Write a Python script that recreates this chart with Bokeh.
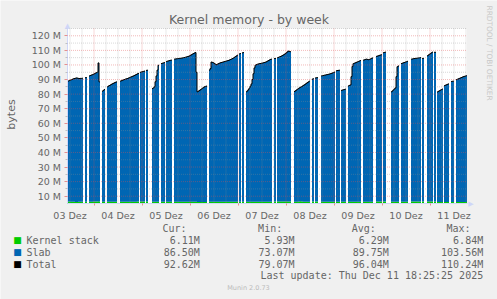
import math
import datetime as dt
from bokeh.plotting import figure
from bokeh.models import Range1d, FixedTicker, Label, BoxAnnotation
from bokeh.embed import file_html
from bokeh.resources import INLINE

# ---------------- chart content ----------------
TITLE = "Kernel memory - by week"
Y_LABEL = "bytes"
WATERMARK = "RRDTOOL / TOBI OETIKER"
FOOTER = "Munin 2.0.73"
LAST_UPDATE = "Last update: Thu Dec 11 18:25:25 2025"

y_ticks = [10, 20, 30, 40, 50, 60, 70, 80, 90, 100, 110, 120]
y_tick_labels = ["10 M", "20 M", "30 M", "40 M", "50 M", "60 M",
                 "70 M", "80 M", "90 M", "100 M", "110 M", "120 M"]
days = [3, 4, 5, 6, 7, 8, 9, 10, 11]            # December 2025
day_labels = ["03 Dez", "04 Dez", "05 Dez", "06 Dez", "07 Dez",
              "08 Dez", "09 Dez", "10 Dez", "11 Dez"]

series_names = ["Kernel stack", "Slab", "Total"]
series_colors = ["#00CC00", "#0066B3", "#000000"]
stat_headers = ["Cur:", "Min:", "Avg:", "Max:"]
stats_kernel_stack = ["6.11M", "5.93M", "6.29M", "6.84M"]
stats_slab = ["86.50M", "73.07M", "89.75M", "103.56M"]
stats_total = ["92.62M", "79.07M", "96.04M", "110.24M"]

# half-hour samples (M), first sample 2025-12-03 10:30; None = no data
total_03 = [88.8, 89.0, 89.3, 89.6, 89.9, 90.2, 90.5, 90.7, 90.9, 91.1, 91.0, 90.8, 90.7, 90.8, 90.8, 90.9,
            None, None, 91.3, 91.3, None, None,
            92.5, 92.8, 93.1, 93.3, 93.6]
ks_03 = [6.3, 6.3, 6.3, 6.2, 6.2, 6.2, 6.2, 6.2, 6.1, 6.1, 6.1, 6.2, 6.2, 6.2, 6.2, 6.2,
         None, None, 6.2, 6.2, None, None,
         6.2, 6.2, 6.2, 6.2, 6.3]

total_04 = [94.0, 94.4, 94.7, 95.0, 101.4, 88.4, None, None, 82.0, 82.5, 83.2, None, None,
            85.0, 85.5, 85.9, 86.3, 86.7, 87.1, 87.4, 87.8, 88.1, 88.4, None, None, None,
            88.9, 89.2, 89.5, 89.8, 90.0, 90.3, 90.5, 90.7, 91.0, 91.3, 91.6, 91.9, 92.2, 92.5, 92.8, 93.2, 93.5, 93.9, 94.2,
            None, 95.0, 95.2]
ks_04 = [6.3, 6.3, 6.3, 6.4, 6.5, 6.3, None, None, 6.2, 6.2, 6.2, None, None,
         6.2, 6.2, 6.2, 6.2, 6.2, 6.2, 6.2, 6.2, 6.2, 6.2, None, None, None,
         6.2, 6.2, 6.2, 6.2, 6.2, 6.2, 6.2, 6.2, 6.2, 6.2, 6.2, 6.2, 6.2, 6.2, 6.2, 6.2, 6.2, 6.3, 6.3,
         None, 6.3, 6.3]

total_05 = [95.4, 95.6, 95.8, None, 96.3, 96.4, None, None, None, None,
            83.8, 84.3, 85.0, 88.5, 92.5, 96.5, 99.8, None, None,
            101.0, 101.2, 101.4, 101.6, None, 102.4, 102.6, 102.8, 103.0, 103.2, 103.3, None, None,
            104.0, 104.1, 104.2, 104.3, 104.4, 104.5, 104.6, 104.7, 104.8, 105.0, 105.1, 105.3, 105.5, 105.7, 105.9, 106.2]
ks_05 = [6.3, 6.3, 6.3, None, 6.3, 6.3, None, None, None, None,
         6.2, 6.2, 6.2, 6.2, 6.2, 6.2, 6.2, None, None,
         6.2, 6.2, 6.2, 6.2, None, 6.2, 6.2, 6.2, 6.2, 6.2, 6.2, None, None,
         6.2, 6.2, 6.2, 6.2, 6.2, 6.2, 6.2, 6.2, 6.2, 6.2, 6.2, 6.2, 6.2, 6.2, 6.2, 6.2]

total_06 = [106.6, 107.0, 107.4, 107.8, 108.2, 108.5, 95.0,
            81.6, 82.0, 82.5, 83.0, 83.5, 84.0, 84.5, 85.0, 85.3, 85.5, None, None,
            96.5, 97.5, 102.0, 101.8, 101.5, 101.0, 100.5, 100.2, 100.5, 100.9, 101.2, 101.5, 101.7, 101.9, 102.1,
            102.3, 102.5, 102.7, 102.9, 103.1, 103.4, 103.7, 104.0, 104.4, 104.8, 105.2, 105.7, 106.2, 106.7]
ks_06 = [6.2, 6.2, 6.2, 6.2, 6.2, 6.2, 6.2,
         6.1, 6.1, 6.1, 6.1, 6.1, 6.1, 6.1, 6.1, 6.1, 6.1, None, None,
         6.2, 6.2, 6.2, 6.2, 6.2, 6.2, 6.2, 6.2, 6.2, 6.2, 6.2, 6.2, 6.2, 6.2, 6.2,
         6.2, 6.2, 6.2, 6.2, 6.2, 6.2, 6.2, 6.2, 6.2, 6.2, 6.2, 6.2, 6.2, 6.2]

total_07 = [None, 107.6, 107.8, None, 108.3, 108.5, None, None,
            81.6, 82.3, 83.1, 84.2, 85.5, 87.0, 90.0, 94.0, 98.0, 99.8, 100.2, 100.5, 100.7,
            100.9, 101.0, 101.2, 101.3, 101.5, 101.7, 101.9, 102.2, 102.6, 103.0, 103.4, 103.8, 104.0,
            None, None, 104.4, 104.4, None, 105.0, 105.2, 105.5, 105.8, 106.1, 106.5, 106.9, 107.3, 107.8]
ks_07 = [None, 6.2, 6.2, None, 6.2, 6.2, None, None,
         6.2, 6.2, 6.2, 6.2, 6.2, 6.2, 6.2, 6.2, 6.2, 6.2, 6.2, 6.2, 6.2,
         6.2, 6.2, 6.2, 6.2, 6.2, 6.2, 6.2, 6.2, 6.2, 6.2, 6.2, 6.2, 6.2,
         None, None, 6.3, 6.3, None, 6.3, 6.3, 6.3, 6.3, 6.3, 6.3, 6.3, 6.3, 6.3]

total_08 = [108.4, 109.0, 109.5, 109.3, 109.1, None, None, None,
            81.8, 82.3, 82.8, 83.3, 83.8, 84.3, 84.7, 85.1, 85.5, 86.0, 86.4, 86.9, 87.4, 87.9, 88.4, 88.9,
            None, None, 90.3, 90.5, None, 91.1, 91.2, 91.3, None, None, None,
            92.5, 92.6, 92.8, 93.0, 93.1, 93.3, 93.4, 93.6, 93.8, 94.0, 94.2, 94.5, 94.8]
ks_08 = [6.3, 6.3, 6.3, 6.3, 6.3, None, None, None,
         6.2, 6.2, 6.2, 6.2, 6.3, 6.4, 6.5, 6.4, 6.3, 6.2, 6.2, 6.2, 6.2, 6.2, 6.2, 6.2,
         None, None, 6.3, 6.3, None, 6.3, 6.3, 6.3, None, None, None,
         6.2, 6.2, 6.2, 6.2, 6.2, 6.2, 6.2, 6.2, 6.2, 6.2, 6.2, 6.2, 6.2]

total_09 = [95.1, None, 96.0, 96.2, 96.3, 96.4, None, 82.6, 82.8, 83.0, 83.2, 83.4, None, None,
            85.6, 86.0, 86.3, 92.0, 99.0, 100.9, 101.2, 101.5, 101.8, 102.1, 102.4, 102.7, 103.0, None, None,
            103.3, 103.5, 103.8, 104.0, 103.8, 103.6, 103.8, 104.1, 104.5, 104.8, None, None, None,
            105.9, 106.1, 106.3, 106.6, 106.8, 107.0]
ks_09 = [6.2, None, 6.2, 6.2, 6.2, 6.2, None, 6.2, 6.2, 6.2, 6.2, 6.2, None, None,
         6.2, 6.2, 6.2, 6.2, 6.2, 6.2, 6.2, 6.2, 6.2, 6.2, 6.2, 6.2, 6.2, None, None,
         6.2, 6.2, 6.2, 6.2, 6.2, 6.2, 6.2, 6.2, 6.2, 6.2, None, None, None,
         6.3, 6.3, 6.3, 6.3, 6.3, 6.3]

total_10 = [None, 108.4, 108.6, 108.8, None, None, None, None, None,
            81.6, 82.2, 82.9, 83.6, 84.3, 92.0, 98.8, 99.3, None, None,
            101.0, 101.2, 101.5, 101.7, 102.0, 102.2, 102.5, None, None, None,
            104.0, 104.1, 104.3, 104.4, 104.5, 104.6, 104.7, 104.8, 104.9, 105.0, None, 104.5, 104.5, None, None, None,
            106.3, 106.8, 107.3]
ks_10 = [None, 6.3, 6.3, 6.3, None, None, None, None, None,
         6.2, 6.2, 6.2, 6.2, 6.2, 6.2, 6.2, 6.2, None, None,
         6.2, 6.2, 6.2, 6.2, 6.2, 6.2, 6.2, None, None, None,
         6.3, 6.3, 6.3, 6.3, 6.3, 6.3, 6.3, 6.3, 6.3, 6.3, None, 6.4, 6.4, None, None, None,
         6.3, 6.3, 6.3]

total_11 = [107.8, 108.3, 108.8, None, 108.7, 108.7, None,
            81.5, 81.9, 82.3, 82.7, 83.1, 83.5, None, 85.8, 86.1, 86.4, 86.7, 87.0, None, None,
            88.7, 88.8, 88.9, None, None,
            89.9, 90.2, 90.5, 90.8, 91.1, 91.4, 91.7, 92.0, 92.2, 92.4, 92.6]
ks_11 = [6.3, 6.3, 6.3, None, 6.3, 6.3, None,
         6.1, 6.1, 6.1, 6.1, 6.1, 6.1, None, 6.1, 6.1, 6.1, 6.1, 6.1, None, None,
         6.1, 6.1, 6.1, None, None,
         6.1, 6.1, 6.1, 6.1, 6.1, 6.1, 6.1, 6.1, 6.1, 6.1, 6.1]

total_days = [total_03, total_04, total_05, total_06, total_07, total_08, total_09, total_10, total_11]
ks_days = [ks_03, ks_04, ks_05, ks_06, ks_07, ks_08, ks_09, ks_10, ks_11]

# ---------------- build series ----------------
UTC = dt.timezone.utc
STEP = dt.timedelta(minutes=30)
T0 = dt.datetime(2025, 12, 3, 10, 30, tzinfo=UTC)
Y_MIN, Y_MAX = 5, 125


def ms(d):
    return int(d.timestamp() * 1000)


total, kstack = [], []
for tday, kday in zip(total_days, ks_days):
    assert len(tday) == len(kday)
    total += tday
    kstack += kday
N = len(total)
STEP_MS = ms(T0 + STEP) - ms(T0)
t_ms = [ms(T0 + i * STEP) for i in range(N)]
X_START, X_END = ms(T0), ms(T0 + N * STEP)

runs, cur = [], []
for i in range(N):
    if total[i] is None or kstack[i] is None:
        if cur:
            runs.append(cur)
        cur = []
    else:
        cur.append(i)
if cur:
    runs.append(cur)

green_xs, green_ys, blue_xs, blue_ys, line_xs, line_ys = [], [], [], [], [], []
for run in runs:
    xs, tt, kk = [], [], []
    for i in run:
        xs += [t_ms[i], t_ms[i] + STEP_MS]
        tt += [total[i], total[i]]
        kk += [kstack[i], kstack[i]]
    green_xs.append(xs + [xs[-1], xs[0]])
    green_ys.append(kk + [Y_MIN, Y_MIN])
    blue_xs.append(xs + xs[::-1])
    blue_ys.append(tt + kk[::-1])
    line_xs.append(xs)
    line_ys.append(tt)

# ---------------- layout (canvas pixels) ----------------
W, H = 497, 299
FL, FT, FW, FH = 67, 28, 400, 175          # rrd graph area inside the canvas
SHIFT = 0.5                                 # half-pixel alignment of the sample edges
MPX = (X_END - X_START) / FW                # ms per pixel
MPY = (Y_MAX - Y_MIN) / FH                  # M per pixel
FONT_COL = "#666666"
MGRID = "#DE4F4F"
GRID = "#8F8F8F"
AXIS = "#CFD6F8"

p = figure(width=W, height=H, title=None,
           x_range=Range1d(X_START - (FL - SHIFT) * MPX, X_END + (W - FL - FW + SHIFT) * MPX),
           y_range=Range1d(Y_MIN - (H - FT - FH) * MPY, Y_MAX + FT * MPY),
           output_backend="svg", toolbar_location=None,
           min_border_left=0, min_border_right=0, min_border_top=0, min_border_bottom=0)
p.background_fill_color = "#F0F0F0"
p.border_fill_color = "#F0F0F0"
p.outline_line_color = None
p.xgrid.visible = False
p.ygrid.visible = False

p.add_layout(BoxAnnotation(left=X_START, right=X_END, bottom=Y_MIN, top=Y_MAX,
                           fill_color="white", fill_alpha=1, line_color=None, level="underlay"))

p.patches(green_xs, green_ys, fill_color=series_colors[0], line_color=None)
p.patches(blue_xs, blue_ys, fill_color=series_colors[1], line_color=None)
p.multi_line(line_xs, line_ys, line_color=series_colors[2], line_width=1)

noon_ms = [ms(dt.datetime(2025, 12, d, 12, tzinfo=UTC)) for d in days]
midnight_ms = [ms(dt.datetime(2025, 12, d, 0, tzinfo=UTC)) for d in days[1:]]
six_h = []
tt6 = dt.datetime(2025, 12, 3, 12, tzinfo=UTC)
while tt6 < T0 + N * STEP:
    if tt6.hour != 0:
        six_h.append(ms(tt6))
    tt6 += dt.timedelta(hours=6)
y_minor = [v + 5 for v in y_ticks]

# grid drawn over the areas, as rrdtool does
p.segment(x0=six_h, x1=six_h, y0=[Y_MIN] * len(six_h), y1=[Y_MAX] * len(six_h),
          line_color=GRID, line_alpha=0.4, line_dash="1 1", line_width=1)
p.segment(x0=[X_START] * len(y_minor), x1=[X_END] * len(y_minor), y0=y_minor, y1=y_minor,
          line_color=GRID, line_alpha=0.35, line_dash="1 1", line_width=1)
p.segment(x0=midnight_ms, x1=midnight_ms, y0=[Y_MIN] * len(midnight_ms), y1=[Y_MAX] * len(midnight_ms),
          line_color=MGRID, line_alpha=0.45, line_dash="1 1", line_width=1)
p.segment(x0=[X_START] * len(y_ticks), x1=[X_END] * len(y_ticks), y0=y_ticks, y1=y_ticks,
          line_color=MGRID, line_alpha=0.4, line_dash="1 1", line_width=1)

xa = p.xaxis[0]
xa.fixed_location = Y_MIN
xa.bounds = (X_START, X_END)
xa.ticker = FixedTicker(ticks=noon_ms, minor_ticks=midnight_ms)
xa.major_label_overrides = {t: s for t, s in zip(noon_ms, day_labels)}
xa.major_tick_line_color = None
xa.major_tick_out = 0
xa.major_tick_in = 0
xa.minor_tick_line_color = MGRID
xa.minor_tick_line_alpha = 0.6
xa.minor_tick_out = 2
xa.minor_tick_in = 0
xa.axis_line_color = AXIS
xa.major_label_standoff = 4
xa.major_label_text_font = "DejaVu Sans"
xa.major_label_text_font_size = "9.5px"
xa.major_label_text_color = FONT_COL

ya = p.yaxis[0]
ya.fixed_location = X_START
ya.bounds = (Y_MIN, Y_MAX)
ya.ticker = FixedTicker(ticks=y_ticks, minor_ticks=y_minor)
ya.major_label_overrides = {v: s for v, s in zip(y_ticks, y_tick_labels)}
ya.major_tick_line_color = MGRID
ya.major_tick_line_alpha = 0.6
ya.major_tick_out = 3
ya.major_tick_in = 0
ya.minor_tick_line_color = GRID
ya.minor_tick_line_alpha = 0.5
ya.minor_tick_out = 2
ya.minor_tick_in = 0
ya.axis_line_color = AXIS
ya.major_label_standoff = 3
ya.major_label_text_font = "DejaVu Sans"
ya.major_label_text_font_size = "9.5px"
ya.major_label_text_color = FONT_COL


def put(text, cx, cy, size, color, font="DejaVu Sans", align="left", angle=0.0):
    p.add_layout(Label(x=cx, y=H - cy, x_units="screen", y_units="screen",
                       text=text, text_font=font, text_font_size=f"{size}px",
                       text_color=color, text_align=align, text_baseline="middle",
                       angle=angle))


MONO = "DejaVu Sans Mono"
put(TITLE, 248.5, 18.5, 12.5, FONT_COL, align="center")
put(Y_LABEL, 11, 114, 11, FONT_COL, align="center", angle=math.pi / 2)
put(WATERMARK, 488.5, 5, 7.4, "#C8C8C8", align="left", angle=-math.pi / 2)
put("\u25B6", 470.5, 203.3, 7, AXIS, align="center")
put("\u25B2", 67, 25, 7, AXIS, align="center")

header_right = [186, 281.7, 375.3, 470]
value_right = [199.3, 294, 388.3, 482.7]
for h, xr in zip(stat_headers, header_right):
    put(h, xr, 227.5, 10, FONT_COL, font=MONO, align="right")
rows_y = [239.8, 251.8, 263.7]
for name, col, stats, ry in zip(series_names, series_colors,
                                [stats_kernel_stack, stats_slab, stats_total], rows_y):
    put("\u25A0", 17, ry, 9, col, align="center")
    put(name, 26, ry, 10, FONT_COL, font=MONO)
    for s, xr in zip(stats, value_right):
        put(s, xr, ry, 10, FONT_COL, font=MONO, align="right")
put(LAST_UPDATE, 482.7, 275.3, 10, FONT_COL, font=MONO, align="right")
put(FOOTER, 248, 287.7, 6.5, "#BBBBBB", align="center")

open("out.html", "w").write(file_html(p, INLINE))
